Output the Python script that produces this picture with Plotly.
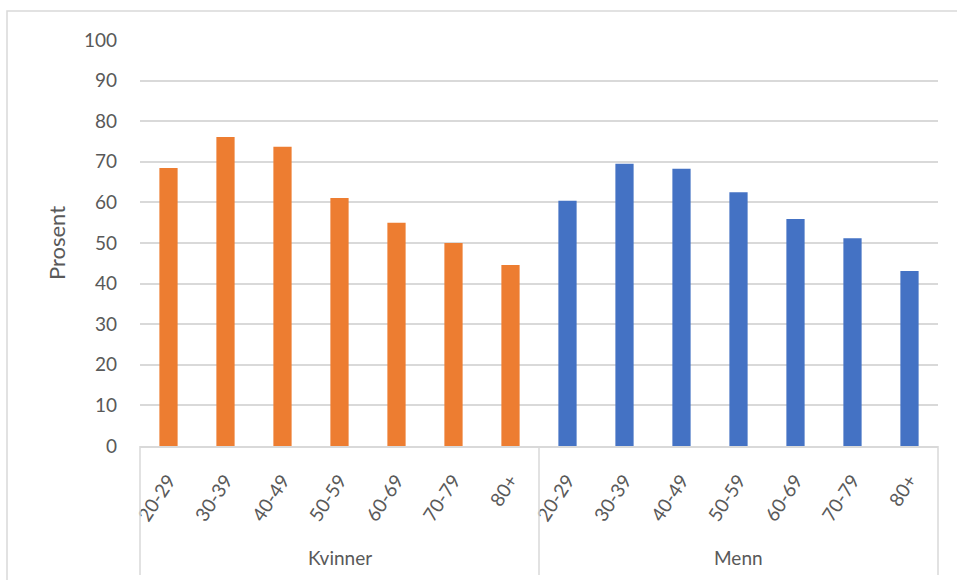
import plotly.graph_objects as go

groups = ["Kvinner", "Menn"]
ages = ["20-29", "30-39", "40-49", "50-59", "60-69", "70-79", "80+"]
kvinner = [68.5, 76.1, 73.7, 61.1, 55.0, 50.0, 44.6]
menn = [60.4, 69.5, 68.3, 62.5, 55.9, 51.2, 43.1]
colors = {"Kvinner": "#ED7D31", "Menn": "#4472C4"}

xk, xt, yv, cv = [], [], [], []
for g, vals in zip(groups, [kvinner, menn]):
    for a, v in zip(ages, vals):
        xk.append(f"{g} {a}")
        xt.append(a)
        yv.append(v)
        cv.append(colors[g])

fig = go.Figure(go.Bar(x=xk, y=yv, marker=dict(color=cv, line=dict(width=0))))

font = "Lato, 'Open Sans', sans-serif"
grey = "#d9d9d9"
txt = "#595959"
ph = 406.0
div_len = (575 - 446) / ph
shapes = [dict(type="rect", xref="paper", yref="paper",
               x0=-133 / 798, x1=1.03, y0=-1, y1=1 + 29 / ph,
               line=dict(color=grey, width=1.5), fillcolor="rgba(0,0,0,0)", layer="below")]
for xp in [0, 0.5, 1]:
    shapes.append(dict(type="line", xref="paper", yref="paper", x0=xp, x1=xp,
                       y0=0, y1=-div_len, line=dict(color=grey, width=1.5)))

annotations = []
mid = len(ages) // 2
for g in groups:
    annotations.append(dict(x=f"{g} {ages[mid]}", xref="x", y=-(557 - 446) / ph, yref="paper",
                            text=g, showarrow=False, font=dict(size=19, color=txt),
                            xanchor="center", yanchor="middle"))

fig.update_layout(
    width=957, height=580,
    margin=dict(l=140, r=19, t=40, b=134),
    paper_bgcolor="white", plot_bgcolor="white",
    bargap=0.68,
    showlegend=False,
    font=dict(family=font, color=txt, size=19),
    xaxis=dict(
        type="category",
        tickmode="array", tickvals=xk, ticktext=xt,
        tickangle=-57,
        showline=True, linecolor=grey, linewidth=1.5,
        showgrid=False,
        tickfont=dict(size=19, color=txt),
        ticks="",
        ticklabelstandoff=14,
    ),
    yaxis=dict(
        range=[0, 100], dtick=10,
        showgrid=True, gridcolor=grey, gridwidth=1.5,
        zeroline=False,
        tickfont=dict(size=19, color=txt),
        ticks="", ticklabelstandoff=22,
        title=dict(text="Prosent", font=dict(size=22, color=txt), standoff=12),
    ),
    shapes=shapes,
    annotations=annotations,
)

fig.write_html("out.html")
